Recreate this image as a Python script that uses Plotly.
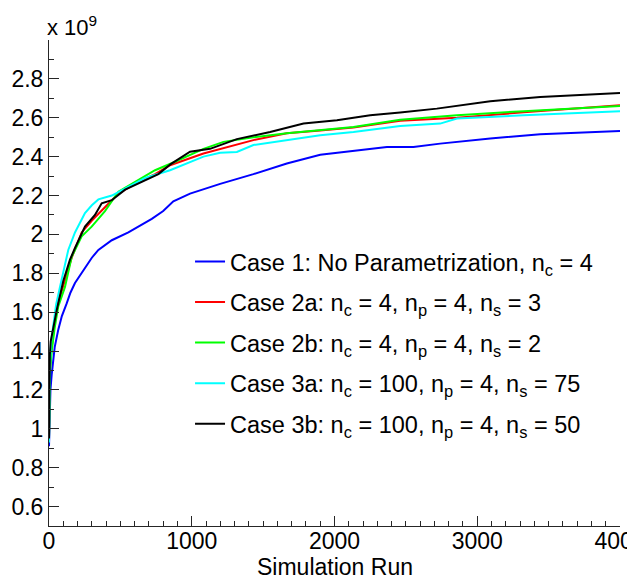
import plotly.graph_objects as go

# Values in units of 1e9
blue_x = [0, 3, 10, 19, 40, 65, 90, 124, 150, 182, 252, 300, 346, 440, 556, 650, 720, 800, 871, 988, 1199, 1432, 1666, 1900, 2133, 2367, 2553, 2740, 3091, 3441, 4000]
blue_y = [0.91, 1.05, 1.20, 1.28, 1.42, 1.51, 1.58, 1.645, 1.70, 1.75, 1.83, 1.88, 1.92, 1.97, 2.01, 2.05, 2.08, 2.12, 2.17, 2.21, 2.26, 2.31, 2.365, 2.41, 2.43, 2.45, 2.45, 2.467, 2.493, 2.515, 2.532]

red_x = [0, 3, 8, 19, 40, 65, 112, 159, 229, 299, 392, 486, 626, 743, 848, 1082, 1432, 1666, 1900, 2133, 2460, 2858, 3325, 4000]
red_y = [0.95, 1.20, 1.32, 1.42, 1.55, 1.65, 1.76, 1.88, 2.01, 2.07, 2.14, 2.21, 2.27, 2.31, 2.356, 2.416, 2.485, 2.52, 2.535, 2.55, 2.585, 2.60, 2.628, 2.664]

green_x = [0, 3, 8, 19, 40, 65, 112, 159, 229, 299, 392, 486, 626, 743, 871, 1082, 1222, 1432, 1666, 1900, 2133, 2460, 2858, 3325, 4000]
green_y = [0.95, 1.15, 1.30, 1.40, 1.52, 1.63, 1.73, 1.885, 1.99, 2.04, 2.12, 2.22, 2.28, 2.33, 2.37, 2.44, 2.476, 2.50, 2.52, 2.535, 2.553, 2.59, 2.613, 2.634, 2.661]

cyan_x = [0, 3, 8, 15, 30, 50, 77, 105, 135, 182, 252, 300, 346, 440, 555, 673, 848, 1082, 1199, 1316, 1432, 1666, 1900, 2133, 2460, 2740, 2858, 3325, 4000]
cyan_y = [0.93, 1.20, 1.35, 1.45, 1.54, 1.64, 1.73, 1.83, 1.92, 2.01, 2.11, 2.15, 2.18, 2.20, 2.245, 2.29, 2.33, 2.40, 2.42, 2.424, 2.46, 2.485, 2.51, 2.527, 2.557, 2.57, 2.596, 2.613, 2.634]

black_x = [0, 3, 6, 12, 25, 54, 100, 147, 182, 252, 322, 369, 440, 533, 650, 766, 850, 988, 1128, 1316, 1549, 1783, 2017, 2250, 2460, 2717, 3091, 3441, 4000]
black_y = [0.95, 1.25, 1.38, 1.45, 1.50, 1.61, 1.76, 1.87, 1.93, 2.04, 2.10, 2.16, 2.176, 2.23, 2.27, 2.31, 2.36, 2.425, 2.44, 2.49, 2.527, 2.57, 2.587, 2.613, 2.627, 2.647, 2.685, 2.707, 2.728]

names = [
    "Case 1: No Parametrization, n<sub>c</sub> = 4",
    "Case 2a: n<sub>c</sub> = 4, n<sub>p</sub> = 4, n<sub>s</sub> = 3",
    "Case 2b: n<sub>c</sub> = 4, n<sub>p</sub> = 4, n<sub>s</sub> = 2",
    "Case 3a: n<sub>c</sub> = 100, n<sub>p</sub> = 4, n<sub>s</sub> = 75",
    "Case 3b: n<sub>c</sub> = 100, n<sub>p</sub> = 4, n<sub>s</sub> = 50",
]
colors = ["#0000ff", "#ff0000", "#00ff00", "#00ffff", "#000000"]
series = [(blue_x, blue_y), (red_x, red_y), (green_x, green_y), (cyan_x, cyan_y), (black_x, black_y)]

y_ticks = [0.6, 0.8, 1.0, 1.2, 1.4, 1.6, 1.8, 2.0, 2.2, 2.4, 2.6, 2.8]
y_ticktext = ["0.6", "0.8", "1", "1.2", "1.4", "1.6", "1.8", "2", "2.2", "2.4", "2.6", "2.8"]
x_ticks = [0, 1000, 2000, 3000, 4000]
x_ticktext = ["0", "1000", "2000", "3000", "4000"]

FONT = "Liberation Sans, Arial, sans-serif"

fig = go.Figure()
for i, ((xs, ys), nm, c) in enumerate(zip(series, names, colors)):
    fig.add_trace(go.Scatter(x=xs, y=ys, mode="lines", name=nm,
                             line=dict(color=c, width=2), legendgroup=str(i)))

axis_color = "#262626"
fig.update_layout(
    width=627, height=568,
    margin=dict(l=41, r=15, t=32, b=50),
    paper_bgcolor="white", plot_bgcolor="white",
    font=dict(family=FONT, size=23, color="black"),
    showlegend=True,
    legend=dict(x=0.247, y=0.589, xanchor="left", yanchor="top",
                bgcolor="rgba(0,0,0,0)", borderwidth=0,
                font=dict(family=FONT, size=23.5, color="black"),
                tracegroupgap=7, itemwidth=30),
    xaxis=dict(range=[0, 4000], tickvals=x_ticks, ticktext=x_ticktext,
               showgrid=False, zeroline=False, showline=True, linecolor=axis_color,
               linewidth=1, ticks="inside", ticklen=10, tickcolor=axis_color,
               minor=dict(ticks="inside", dtick=100, tick0=0, ticklen=5, tickcolor=axis_color),
               automargin=False, tickfont=dict(size=23), ticklabeloverflow="allow",
               ticklabelstandoff=-6),
    yaxis=dict(range=[0.5, 3.0], tickvals=y_ticks, ticktext=y_ticktext,
               showgrid=False, zeroline=False, showline=True, linecolor=axis_color,
               linewidth=1, ticks="inside", ticklen=10, tickcolor=axis_color,
               minor=dict(ticks="inside", dtick=0.1, tick0=0.5, ticklen=5, tickcolor=axis_color),
               automargin=False, tickfont=dict(size=23), ticklabeloverflow="allow"),
    annotations=[
        dict(text="x 10<sup>9</sup>", xref="paper", yref="paper",
             x=0, y=1.0, xanchor="left", yanchor="bottom", showarrow=False,
             font=dict(family=FONT, size=22, color="black"), xshift=-4, yshift=-2),
        dict(text="Simulation Run", xref="paper", yref="paper",
             x=0.5, y=-0.084, xanchor="center", yanchor="middle", showarrow=False,
             font=dict(family=FONT, size=23, color="black")),
    ],
)

fig.write_html("out.html")
